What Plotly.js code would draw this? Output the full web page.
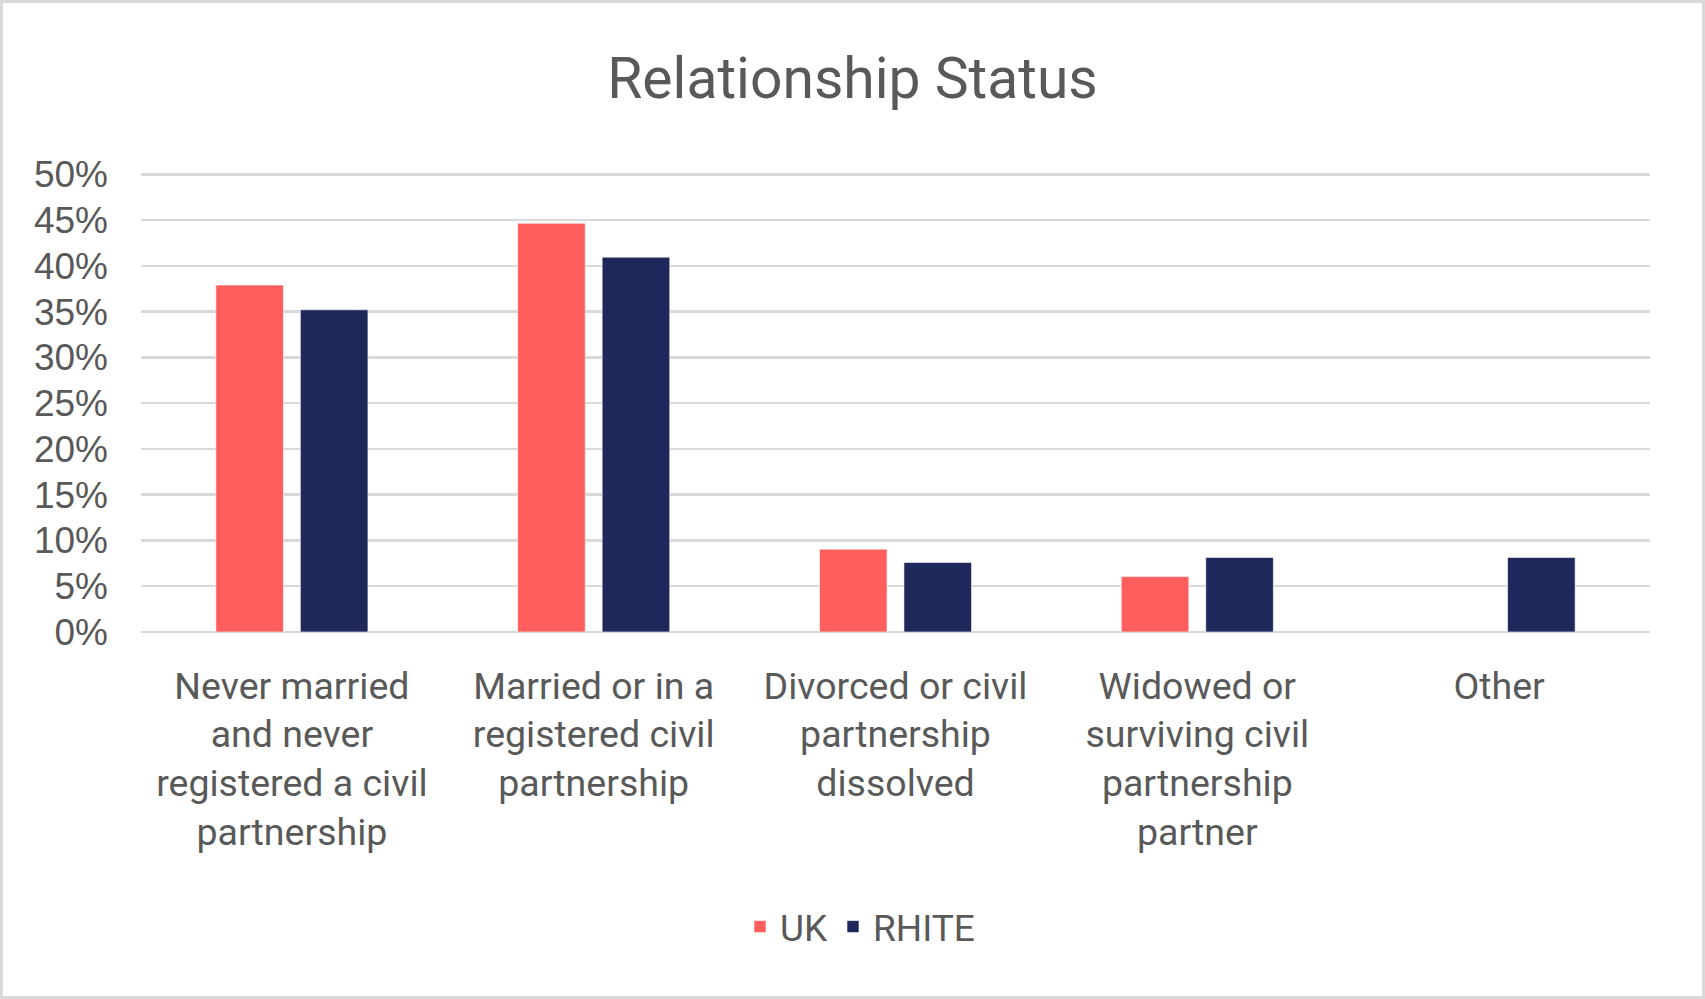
<!DOCTYPE html>
<html>
<head>
<meta charset="utf-8">
<script src="https://cdn.plot.ly/plotly-3.0.1.min.js"></script>
<style>
  html, body { margin: 0; padding: 0; background: #fff; }
  #frame { width: 1705px; height: 999px; box-sizing: border-box; border: 3px solid #d9d9d9; }
  #chart { width: 1699px; height: 993px; }
</style>
</head>
<body>
<div id="frame"><div id="chart"></div></div>
<script>
// categories as shown on the x axis (line breaks kept like the original)
const categories = [
  "Never married<br>and never<br>registered a civil<br>partnership",
  "Married or in a<br>registered civil<br>partnership",
  "Divorced or civil<br>partnership<br>dissolved",
  "Widowed or<br>surviving civil<br>partnership<br>partner",
  "Other"
];

// percent values
const ukValues = [37.9, 44.65, 9.05, 6.05, null];
const rhiteValues = [35.2, 40.95, 7.6, 8.15, 8.15];

const yTicks = [0, 5, 10, 15, 20, 25, 30, 35, 40, 45, 50];

const textColor = "#595959";

let traceUK = {
  x: categories,
  y: ukValues,
  name: "UK",
  type: "bar",
  marker: { color: "#FF5F5C", line: { color: "#ffffff", width: 0.6 } },
  hoverinfo: "skip"
};

let traceRhite = {
  x: categories,
  y: rhiteValues,
  name: "RHITE",
  type: "bar",
  marker: { color: "#1E285A", line: { color: "#ffffff", width: 0.6 } },
  hoverinfo: "skip"
};

let layout = {
  width: 1699,
  height: 993,
  margin: { l: 138, r: 52, t: 169, b: 364 },
  paper_bgcolor: "#ffffff",
  plot_bgcolor: "#ffffff",
  font: { family: "Roboto, 'Noto Sans', sans-serif", color: textColor },
  title: {
    text: "Relationship Status",
    font: { family: "Roboto, sans-serif", size: 57, color: textColor },
    x: 0.5,
    xref: "container",
    xanchor: "center",
    y: 1 - 75 / 993,
    yref: "container",
    yanchor: "middle"
  },
  barmode: "group",
  bargap: 0.44,
  bargroupgap: 0.2,
  xaxis: {
    type: "category",
    tickfont: { family: "Roboto, sans-serif", size: 37.5, color: textColor },
    ticks: "",
    showline: false,
    showgrid: false,
    ticklabelstandoff: 28,
    fixedrange: true
  },
  yaxis: {
    range: [0, 50.25],
    tickvals: yTicks,
    ticktext: yTicks.map(v => v + "%"),
    tickfont: { family: "'Liberation Sans', Arial, sans-serif", size: 37, color: textColor },
    showgrid: true,
    gridcolor: "#D9D9D9",
    gridwidth: 2.5,
    zeroline: true,
    zerolinecolor: "#D9D9D9",
    zerolinewidth: 2.5,
    ticks: "",
    ticklabelstandoff: 32,
    fixedrange: true
  },
  showlegend: true,
  legend: {
    orientation: "h",
    xref: "container",
    yref: "container",
    x: 857 / 1699,
    xanchor: "center",
    y: 1 - 924 / 993,
    yanchor: "middle",
    font: { family: "Roboto, sans-serif", size: 37, color: textColor },
    itemwidth: 30,
    traceorder: "normal"
  }
};

Plotly.newPlot("chart", [traceUK, traceRhite], layout, { displayModeBar: false, staticPlot: true });
</script>
</body>
</html>
